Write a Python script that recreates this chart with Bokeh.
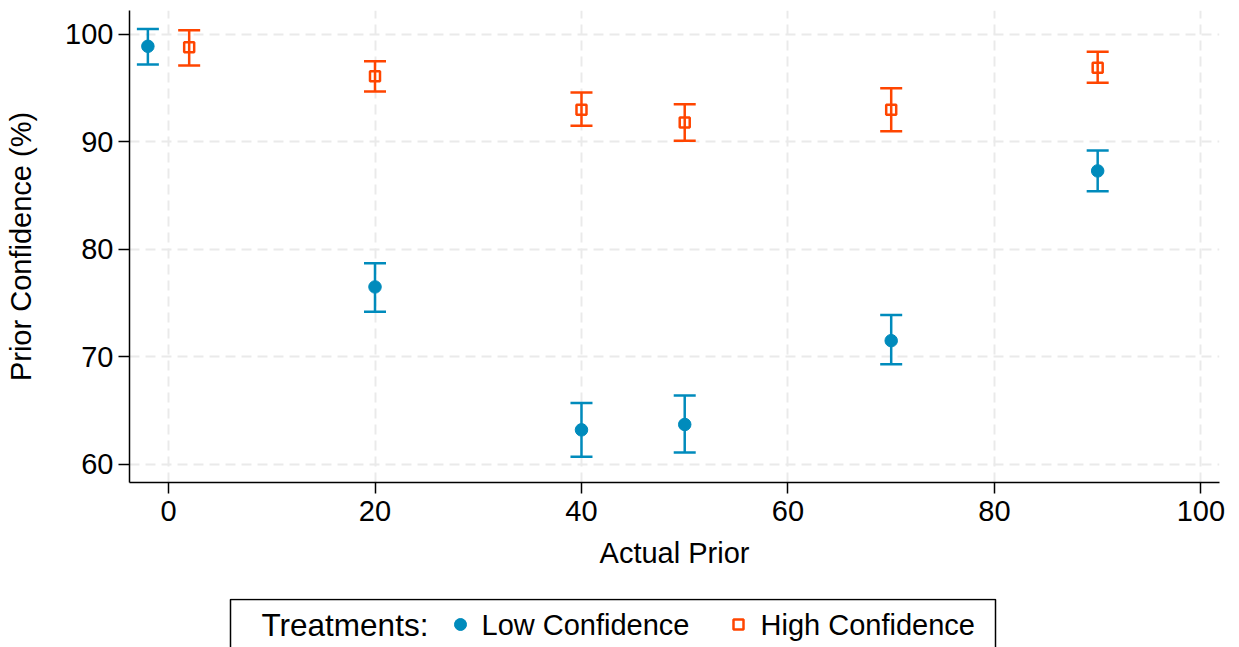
from bokeh.plotting import figure
from bokeh.models import (ColumnDataSource, Whisker, TeeHead, FixedTicker, Range1d)
from bokeh.layouts import column
from bokeh.core.properties import value
from bokeh.embed import file_html
from bokeh.resources import INLINE

# ---- data ----
low_x = [-2, 20, 40, 50, 70, 90]
low_mean = [98.9, 76.5, 63.2, 63.7, 71.5, 87.3]
low_lo = [97.2, 74.2, 60.7, 61.1, 69.3, 85.4]
low_hi = [100.5, 78.7, 65.7, 66.4, 73.9, 89.2]

high_x = [2, 20, 40, 50, 70, 90]
high_mean = [98.8, 96.1, 93.0, 91.8, 93.0, 96.9]
high_lo = [97.1, 94.7, 91.5, 90.1, 91.0, 95.5]
high_hi = [100.4, 97.5, 94.6, 93.5, 95.0, 98.4]

x_ticks = [0, 20, 40, 60, 80, 100]
y_ticks = [60, 70, 80, 90, 100]

legend_title = "Treatments:"
low_label = "Low Confidence"
high_label = "High Confidence"

BLUE = "#008bbc"
ORANGE = "#ff4500"
FONT = "Liberation Sans"
FS = "29px"

W = 1239
H_MAIN = 598
H_LEG = 49
FL, FR, FT, FB = 129, 1219, 10, 482   # plot frame edges on the page

p = figure(width=W, height=H_MAIN, output_backend="svg", toolbar_location=None,
           x_range=Range1d(-3.78, 101.8), y_range=Range1d(58.3, 102.23),
           min_border_left=FL, min_border_right=W - FR, min_border_top=FT,
           min_border_bottom=H_MAIN - FB)
p.outline_line_color = None
p.background_fill_color = "white"
p.border_fill_color = "white"

low_src = ColumnDataSource(dict(x=low_x, y=low_mean, lo=low_lo, hi=low_hi))
high_src = ColumnDataSource(dict(x=high_x, y=high_mean, lo=high_lo, hi=high_hi))

for src, col in ((low_src, BLUE), (high_src, ORANGE)):
    w = Whisker(base="x", lower="lo", upper="hi", source=src, dimension="height",
                line_color=col, line_width=2.5,
                upper_head=TeeHead(size=22, line_color=col, line_width=2.5),
                lower_head=TeeHead(size=22, line_color=col, line_width=2.5))
    p.add_layout(w)

p.scatter("x", "y", source=low_src, marker="circle", size=12.5,
          fill_color=BLUE, line_color=BLUE, line_width=1)
p.scatter("x", "y", source=high_src, marker="square", size=10,
          fill_color=None, line_color=ORANGE, line_width=2.5)

for ax in (p.xaxis, p.yaxis):
    ax.axis_line_color = "black"
    ax.axis_line_width = 1.5
    ax.major_tick_line_color = "black"
    ax.major_tick_line_width = 1.5
    ax.major_tick_in = 0
    ax.major_tick_out = 11
    ax.minor_tick_line_color = None
    ax.major_label_text_font = FONT
    ax.major_label_text_font_size = FS
    ax.major_label_text_color = "black"
    ax.axis_label_text_font = FONT
    ax.axis_label_text_font_size = FS
    ax.axis_label_text_font_style = "normal"
    ax.axis_label_text_color = "black"

p.xaxis.ticker = FixedTicker(ticks=x_ticks)
p.yaxis.ticker = FixedTicker(ticks=y_ticks)
p.xaxis.major_label_standoff = 7
p.yaxis.major_label_standoff = 5
p.xaxis.axis_label = "Actual Prior"
p.yaxis.axis_label = "Prior Confidence (%)"
p.xaxis.axis_label_standoff = 13
p.yaxis.axis_label_standoff = 25

for g in (p.xgrid, p.ygrid):
    g.grid_line_color = "#eaeaea"
    g.grid_line_width = 2
    g.grid_line_dash = "10 6"
p.xgrid.ticker = FixedTicker(ticks=x_ticks)
p.ygrid.ticker = FixedTicker(ticks=y_ticks)

# ---- legend strip (own figure; its frame is aligned with the main frame,
#      so its x range is expressed in page pixels) ----
leg = figure(width=W, height=H_LEG, output_backend="svg", toolbar_location=None,
             x_range=Range1d(FL, FR), y_range=Range1d(H_LEG, 0),
             min_border_left=FL, min_border_right=W - FR, min_border_top=0,
             min_border_bottom=0)
leg.axis.visible = False
leg.grid.visible = False
leg.outline_line_color = None
leg.border_fill_color = "white"

leg.quad(left=[230], right=[995], top=[1], bottom=[90], fill_color=None,
         line_color="black", line_width=1.5)
ty = 26
leg.text(x=[261], y=[ty], text=[legend_title], text_font=value(FONT),
         text_font_size="31.5px", text_baseline="middle", text_align="left",
         text_color="black")
leg.scatter(x=[460], y=[ty], marker="circle", size=12, fill_color=BLUE, line_color=BLUE)
leg.text(x=[481], y=[ty], text=[low_label], text_font=value(FONT),
         text_font_size=FS, text_baseline="middle", text_align="left", text_color="black")
leg.scatter(x=[738], y=[ty], marker="square", size=10, fill_color=None,
            line_color=ORANGE, line_width=2.5)
leg.text(x=[760], y=[ty], text=[high_label], text_font=value(FONT),
         text_font_size=FS, text_baseline="middle", text_align="left", text_color="black")

layout = column(p, leg, spacing=0)
open("out.html", "w").write(file_html(layout, INLINE))
